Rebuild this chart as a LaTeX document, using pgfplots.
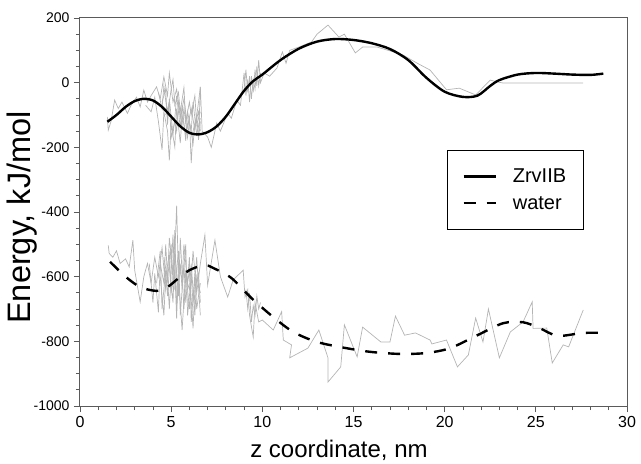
\documentclass[border=0pt]{standalone}
\usepackage{fontspec}
\setmainfont{Liberation Sans}
\usepackage{pgfplots}
\pgfplotsset{compat=1.18}
\definecolor{lg}{RGB}{180,180,180}
\definecolor{ax}{RGB}{90,90,90}
\begin{document}
\begin{tikzpicture}
\begin{axis}[
  scale only axis, width=547pt, height=388pt,
  xmin=0, xmax=30, ymin=-1000, ymax=200,
  xtick={0,5,...,30}, minor x tick num=4,
  ytick={-1000,-800,...,200}, minor y tick num=3,
  tick pos=left, tick align=outside,
  major tick length=6pt, minor tick length=4pt,
  every tick/.style={ax, line width=0.8pt},
  axis line style={ax, line width=1pt},
  /pgf/number format/assume math mode=true,
  /pgf/number format/1000 sep={},
  xticklabel style={font=\fontsize{16}{18}\selectfont, yshift=-1pt},
  yticklabel style={font=\fontsize{14}{16}\selectfont, xshift=-1pt},
  xlabel={z coordinate, nm},
  ylabel={Energy, kJ/mol},
  xlabel style={font=\fontsize{24}{28}\selectfont, at={(rel axis cs:0.4735,0)}, anchor=base, yshift=-51pt},
  ylabel style={font=\fontsize{32.5}{36}\selectfont, at={(rel axis cs:0,0.486)}, anchor=center, yshift=58pt},
  legend style={at={(rel axis cs:0.671,0.66)}, anchor=north west, draw=black, line width=0.8pt,
    font=\fontsize{20}{24}\selectfont, inner xsep=15pt, inner ysep=16.5pt, row sep=8pt, column sep=14pt},
  legend cell align=left,
  legend image code/.code={\draw[#1] (0pt,0pt) -- (32pt,0pt);},
]
% grey traces (upper)
\addplot[lg, line width=0.7pt, forget plot] coordinates {(1.5,-106)(1.55,-147)(1.7,-120)(1.9,-54)(2.1,-80)(2.3,-60)(2.6,-95)(2.8,-70)(3.1,-45)(3.3,-75)(3.5,-23)(3.7,-60)(3.9,-40)(4.2,-13)(4.4,-50)(4.6,18)(4.8,-40)(4.9,30)(5.1,-60)(5.3,-20)(5.5,-110)(5.7,-50)(5.9,-137)(6.1,-80)(6.3,-147)(6.5,-60)(6.6,-13)};
\addplot[lg, line width=0.7pt, forget plot] coordinates {(3.6,-70)(3.9,-90)(4.1,-45)(4.3,-120)(4.5,-208)(4.6,-90)(4.8,-150)(4.9,-240)(5.0,-130)(5.2,-199)(5.3,-80)(5.5,-187)(5.6,-100)(5.8,-160)(6.0,-110)(6.1,-249)(6.2,-150)(6.4,-100)(6.5,-177)(6.6,-120)};
\addplot[lg, line width=0.7pt, forget plot] coordinates {(4.3,-30)(4.5,-80)(4.6,-10)(4.8,-100)(5.0,-20)(5.1,10)(5.2,-70)(5.4,-30)(5.5,-90)(5.7,-15)(5.8,-120)(6.0,-60)(6.1,-100)(6.3,-40)(6.4,-130)(6.6,-90)};
\addplot[lg, line width=0.7pt, forget plot] coordinates {(4.5,-60)(4.7,-20)(4.8,-130)(4.9,-50)(5.1,-160)(5.2,-110)(5.3,-40)(5.5,-140)(5.6,-70)(5.8,-180)(5.9,-90)(6.1,-150)(6.2,-60)(6.4,-160)(6.6,-110)};
\addplot[lg, line width=0.7pt, forget plot] coordinates {(4.7,-100)(4.9,-60)(5.0,-170)(5.2,-120)(5.3,-150)(5.4,-60)(5.6,-130)(5.7,-80)(5.9,-170)(6.0,-120)(6.2,-190)(6.3,-130)(6.5,-90)(6.6,-150)};
\addplot[lg, line width=0.7pt, forget plot] coordinates {(6.5,-177)(6.6,-13)(6.7,-150)(7.0,-168)(7.2,-200)(7.5,-125)(7.7,-150)(8.1,-94)(8.3,-110)(8.6,-54)(8.8,-70)(9.0,30)(9.1,-40)(9.2,10)(9.3,-60)(9.4,20)(9.5,-30)(9.6,40)(9.7,-10)(9.8,70)(9.9,0)(10.1,30)(10.4,20)(10.8,45)(11.1,95)(11.3,60)(11.5,100)(12.0,110)(12.7,126)(13.0,150)(13.6,178)(14.2,141)(14.5,150)(15.1,92)(15.5,110)(16.3,110)(17.2,95)(17.7,86)(18.5,60)(19.2,39)(20.1,-22)(20.8,-17)(21.7,-38)(22.5,8)(22.9,2)(23.2,-1)(27.6,-1)};
\addplot[lg, line width=0.7pt, forget plot] coordinates {(9.0,-20)(9.1,40)(9.2,-30)(9.3,20)(9.4,-50)(9.5,10)(9.6,-20)(9.7,50)(9.8,-10)(9.9,30)};
% grey traces (lower)
\addplot[lg, line width=0.7pt, forget plot] coordinates {(1.55,-503)(1.6,-528)(1.8,-540)(2.0,-520)(2.2,-559)(2.5,-545)(2.7,-570)(2.9,-487)(3.0,-580)(3.3,-678)(3.5,-600)(3.7,-559)(3.9,-620)(4.1,-540)(4.3,-600)(4.5,-510)(4.7,-640)(4.9,-560)(5.1,-680)(5.3,-380)(5.4,-600)(5.6,-765)(5.8,-580)(6.0,-700)(6.2,-520)(6.4,-650)(6.6,-560)(6.85,-471)(7.0,-626)(7.4,-487)(7.7,-600)(8.1,-663)(8.4,-610)(8.95,-580)(9.05,-663)(9.2,-640)(9.3,-720)(9.5,-787)(9.6,-680)(9.8,-740)(10.0,-734)(10.6,-765)(11.06,-708)(11.15,-796)(11.6,-811)(11.5,-851)(12.5,-821)(13.1,-765)(13.6,-851)(13.6,-926)(14.3,-879)(14.5,-749)(15.2,-848)(15.5,-756)(16.5,-802)(17.0,-802)(17.3,-722)(17.8,-781)(18.4,-774)(19.2,-796)(19.3,-808)(20.1,-796)(20.7,-879)(21.3,-842)(21.7,-728)(22.1,-802)(22.4,-700)(23.0,-851)(23.6,-771)(24.3,-740)(24.8,-678)(24.85,-760)(25.6,-759)(25.9,-867)(26.5,-811)(26.8,-817)(27.6,-703)};
\addplot[lg, line width=0.7pt, forget plot] coordinates {(3.8,-560)(4.0,-680)(4.1,-590)(4.3,-710)(4.4,-560)(4.6,-620)(4.7,-500)(4.9,-700)(5.0,-590)(5.1,-470)(5.2,-640)(5.4,-520)(5.5,-720)(5.7,-560)(5.8,-680)(6.0,-540)(6.1,-740)(6.3,-590)(6.4,-700)(6.6,-620)};
\addplot[lg, line width=0.7pt, forget plot] coordinates {(4.2,-620)(4.4,-520)(4.5,-700)(4.7,-580)(4.8,-660)(5.0,-500)(5.1,-620)(5.2,-456)(5.3,-690)(5.5,-560)(5.6,-640)(5.8,-500)(5.9,-720)(6.1,-600)(6.2,-680)(6.4,-540)(6.6,-720)};
\addplot[lg, line width=0.7pt, forget plot] coordinates {(4.4,-600)(4.6,-720)(4.7,-600)(4.9,-530)(5.0,-650)(5.2,-580)(5.3,-730)(5.4,-560)(5.6,-610)(5.7,-500)(5.9,-620)(6.0,-580)(6.2,-760)(6.3,-640)(6.5,-590)(6.6,-680)};
\addplot[lg, line width=0.7pt, forget plot] coordinates {(4.6,-540)(4.8,-610)(4.9,-480)(5.1,-590)(5.2,-520)(5.4,-660)(5.5,-480)(5.7,-700)(5.8,-600)(6.0,-640)(6.1,-560)(6.3,-720)(6.4,-600)(6.6,-650)};
\addplot[lg, line width=0.7pt, forget plot] coordinates {(9.1,-640)(9.2,-700)(9.3,-650)(9.4,-740)(9.5,-690)(9.6,-720)(9.7,-660)(9.8,-700)(9.9,-680)};
% ZrvIIB
\addplot[black, line width=2.4pt, smooth] coordinates {(1.5,-121)(2.0,-100)(2.5,-75)(3.0,-57)(3.5,-50)(4.0,-55)(4.5,-75)(5.0,-105)(5.5,-135)(6.0,-155)(6.5,-160)(7.0,-153)(7.5,-135)(8.0,-105)(8.5,-65)(9.0,-25)(9.5,5)(10.0,25)(11.0,70)(12.0,105)(13.0,127)(14.0,135)(15.0,132)(16.0,122)(17.0,104)(18.0,70)(19.0,15)(20.0,-28)(21.0,-44)(21.8,-40)(22.5,-10)(23.0,8)(24.0,25)(25.0,30)(26.0,28)(27.0,25)(28.0,24)(28.7,28)};
\addlegendentry{ZrvIIB\hspace{45pt}}
% water
\addplot[black, line width=2.4pt, smooth, dash pattern=on 12pt off 11pt] coordinates {(1.65,-554)(2.5,-600)(3.3,-632)(4.2,-644)(4.8,-632)(5.4,-605)(6.0,-580)(6.8,-564)(7.3,-573)(8.3,-604)(9.4,-666)(10.6,-725)(11.7,-771)(13.0,-802)(14.6,-821)(16.0,-833)(17.6,-839)(19.0,-836)(20.3,-821)(21.8,-781)(23.2,-744)(24.3,-741)(25.2,-759)(26.2,-783)(27.6,-774)(29.0,-774)};
\addlegendentry{water}
\end{axis}
\pgfresetboundingbox
\path ([shift={(-80pt,-57pt)}]current axis.south west) rectangle ([shift={(14pt,18pt)}]current axis.north east);
\end{tikzpicture}
\end{document}
